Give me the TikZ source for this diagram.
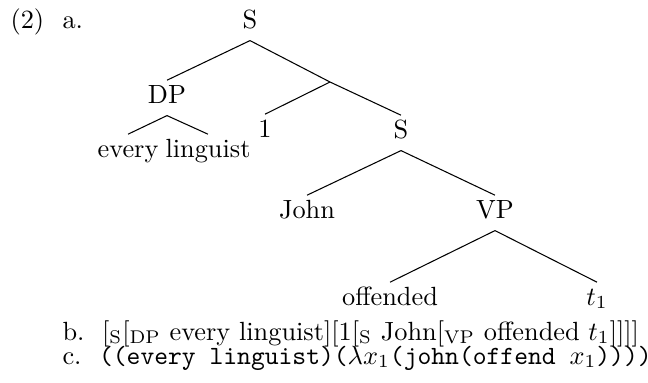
\documentclass[tikz,border=0pt]{standalone}
\usepackage{amsmath,amssymb}
\usepackage{tikz}

\tikzset{
  lbl/.style={anchor=base, text height=1.5ex, text depth=.6ex, inner ysep=2pt},
  row/.style={anchor=base west, inner sep=0pt},
}

\begin{document}
\begin{tikzpicture}[x=0.38pt,y=-0.38pt]
 \useasboundingbox (0,0) rectangle (648,382);
 % example number and sub-items
 \node[row] (num) at (10,28) {(2)};
 \node[row] (ia) at (62,28) {a.};
 % the tree
 \node[lbl] (s) at (250,28) {S};
 \node[lbl] (dp) at (167,103) {DP};
 \coordinate (mid) at (330,82);
 \node[lbl] (every) at (128,157) {every};
 \node[lbl] (ling) at (208,157) {linguist};
 \node[lbl] (one) at (265,137) {1};
 \node[lbl] (s2) at (401,138) {S};
 \node[lbl] (john) at (307,218) {John};
 \node[lbl] (vp) at (495,218) {VP};
 \node[lbl] (off) at (390,305) {offended};
 \node[lbl] (t) at (597,305) {$t_1$};
 \draw (s.south)--(dp.north);
 \draw (s.south)--(mid);
 \draw (dp.south)--(every.north);
 \draw (dp.south)--(ling.north);
 \draw (mid)--(one.north);
 \draw (mid)--(s2.north);
 \draw (s2.south)--(john.north);
 \draw (s2.south)--(vp.north);
 \draw (vp.south)--(off.north);
 \draw (vp.south)--(t.north);
 % bracketings
 \node[row] (ib) at (62,340) {b.\ \ [$_{\text{S}}$[$_{\text{DP}}$ every linguist][1[$_{\text{S}}$ John[$_{\text{VP}}$ offended $t_1$]]]]};
 \node[row] (ic) at (62,364) {c.\ \ \texttt{((every linguist)($\lambda x_1$(john(offend $x_1$))))}};
\end{tikzpicture}
\end{document}
